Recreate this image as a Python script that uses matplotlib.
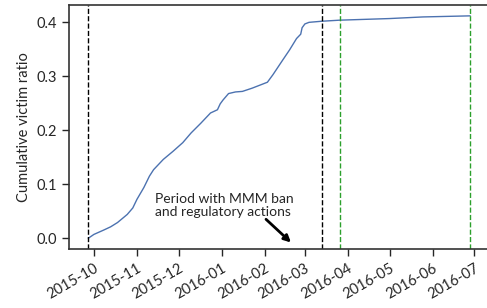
import pandas as pd
import numpy as np
import matplotlib.pyplot as plt
import matplotlib.dates as mdates

# ====== data ======
dates = pd.to_datetime([
    "2015-09-27", "2015-10-01", "2015-10-08", "2015-10-13", "2015-10-18", "2015-10-25",
    "2015-10-29", "2015-11-01", "2015-11-06", "2015-11-10", "2015-11-13", "2015-11-20",
    "2015-11-27", "2015-12-04", "2015-12-10", "2015-12-17", "2015-12-24", "2015-12-29",
    "2015-12-31", "2016-01-02", "2016-01-06", "2016-01-11", "2016-01-16", "2016-01-23",
    "2016-02-03", "2016-02-07", "2016-02-14", "2016-02-19", "2016-02-24",
    "2016-02-27", "2016-02-28", "2016-03-01", "2016-03-04", "2016-03-13", "2016-03-26",
    "2016-05-01", "2016-05-25", "2016-06-28",
])
ratio = [
    0.000, 0.007, 0.015, 0.021, 0.029, 0.044,
    0.056, 0.072, 0.094, 0.115, 0.127, 0.146,
    0.161, 0.177, 0.195, 0.213, 0.232, 0.238,
    0.249, 0.256, 0.268, 0.271, 0.272, 0.278,
    0.289, 0.303, 0.330, 0.349, 0.370,
    0.378, 0.390, 0.397, 0.400, 0.402, 0.404,
    0.407, 0.410, 0.412,
]

black_lines = pd.to_datetime(["2015-09-27", "2016-03-13"])
green_lines = pd.to_datetime(["2016-03-26", "2016-06-28"])

note_text = "Period with MMM ban\nand regulatory actions"
arrow_tail = (pd.Timestamp("2016-02-02"), 0.035)
arrow_head = (pd.Timestamp("2016-02-20"), -0.008)
text_pos = (pd.Timestamp("2015-11-14"), 0.038)

# ====== style ======
plt.rcParams["font.family"] = ["Lato", "DejaVu Sans"]
txt_col = "#262626"
plt.rcParams["text.color"] = txt_col
plt.rcParams["axes.labelcolor"] = txt_col
plt.rcParams["xtick.color"] = txt_col
plt.rcParams["ytick.color"] = txt_col

fig = plt.figure(figsize=(4.87, 3.08), dpi=100)
ax = fig.add_axes([0.1423, 0.1906, 0.862, 0.794])

ax.plot(dates, ratio, color="#4c72b0", lw=1.0)

for d in black_lines:
    ax.axvline(d, color="black", ls="--", lw=1.0)
for d in green_lines:
    ax.axvline(d, color="#2ca02c", ls="--", lw=1.0)

ax.text(text_pos[0], text_pos[1], note_text, fontsize=10, ha="left", va="bottom",
        linespacing=1.1)
ax.annotate("", xy=arrow_head, xytext=arrow_tail,
            arrowprops=dict(arrowstyle="-|>", color="black", lw=2, mutation_scale=10,
                            shrinkA=0, shrinkB=0))

ax.set_ylabel("Cumulative victim ratio", fontsize=10.5)
ax.set_yticks([0.0, 0.1, 0.2, 0.3, 0.4])
ax.xaxis.set_major_locator(mdates.MonthLocator())
ax.xaxis.set_major_formatter(mdates.DateFormatter("%Y-%m"))
plt.setp(ax.get_xticklabels(), rotation=30, ha="right", rotation_mode="anchor")
ax.tick_params(labelsize=10.5, length=5, width=1, direction="out")

for s in ax.spines.values():
    s.set_color("#333333")
    s.set_linewidth(1.2)

plt.savefig("out.png", dpi=100)
